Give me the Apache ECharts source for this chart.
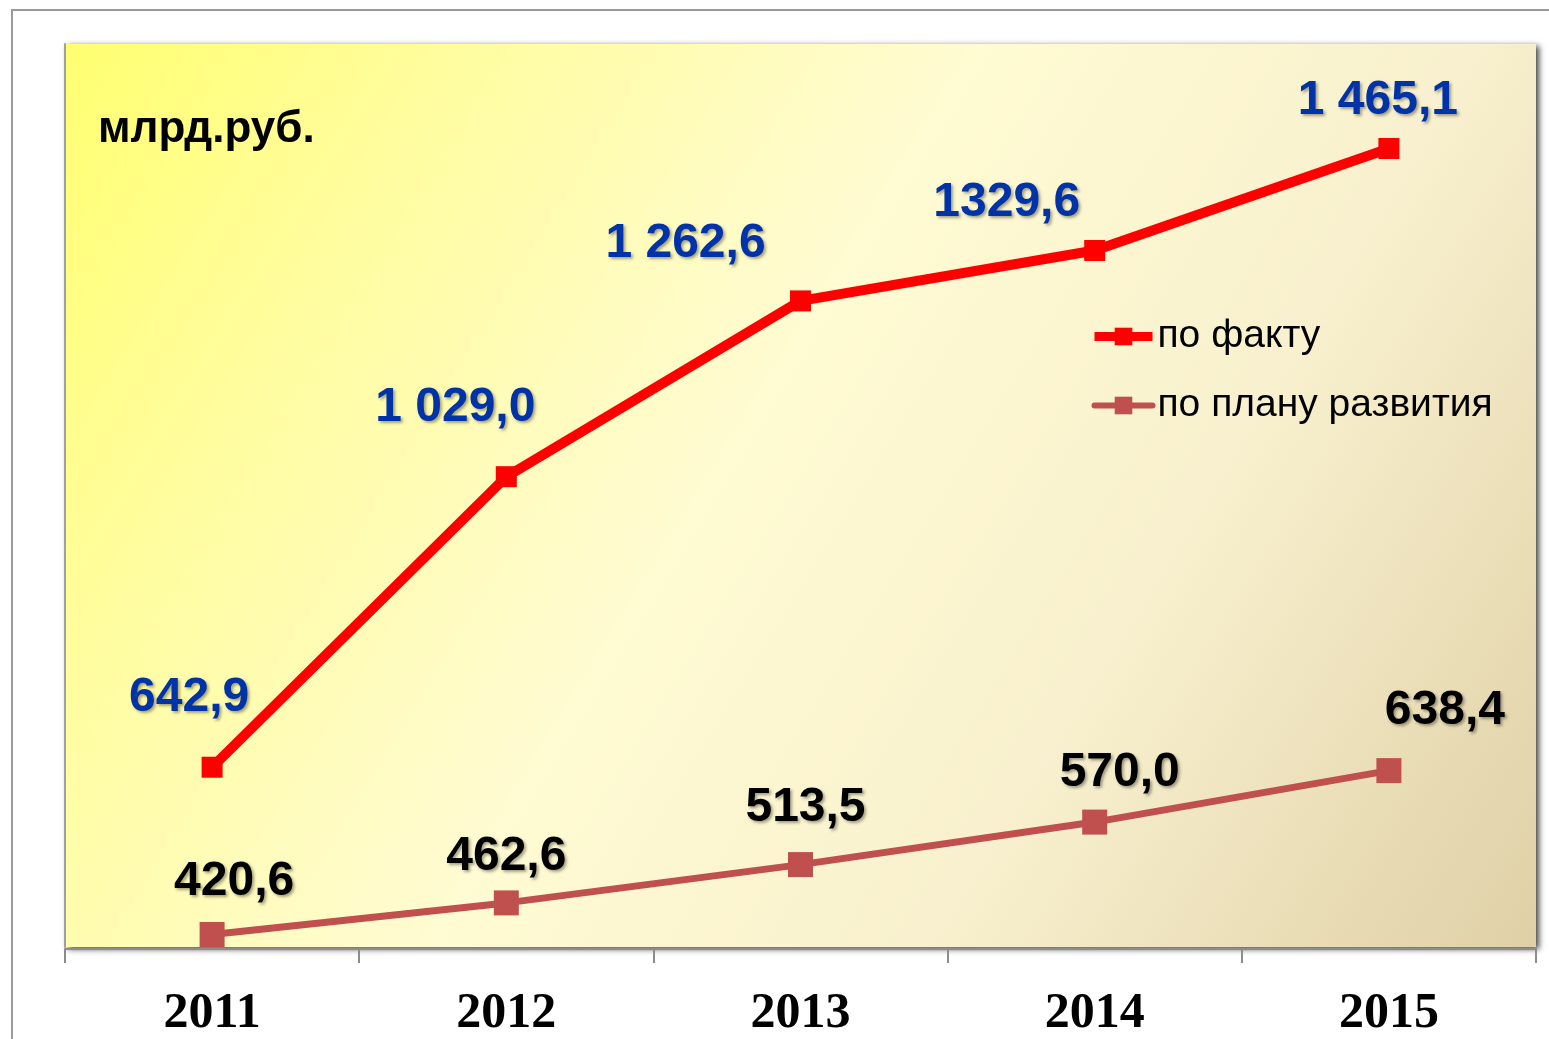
<!DOCTYPE html>
<html>
<head>
<meta charset="utf-8">
<script src="https://cdn.jsdelivr.net/npm/echarts@6/dist/echarts.min.js"></script>
<style>
html,body{margin:0;padding:0;background:#fff;}
#chart{width:1549px;height:1039px;}
</style>
</head>
<body>
<div id="chart"></div>
<script>
var years = ['2011', '2012', '2013', '2014', '2015'];
var factValues = [642.9, 1029.0, 1262.6, 1329.6, 1465.1];
var planValues = [420.6, 462.6, 513.5, 570.0, 638.4];
var factLabels = ['642,9', '1 029,0', '1 262,6', '1329,6', '1 465,1'];
var planLabels = ['420,6', '462,6', '513,5', '570,0', '638,4'];
var seriesNames = ['по факту', 'по плану развития'];
var unitText = 'млрд.руб.';

var factOffsets = [[-23, -69], [-51, -69], [-115, -57], [-88, -48], [-11, -48]];
var planOffsets = [[22, -53], [0, -46], [5, -57], [25, -49], [56, -60]];

function buildData(values, labels, offsets) {
  return values.map(function (v, i) {
    return { value: v, label: { offset: offsets[i], formatter: labels[i] } };
  });
}

var chart = echarts.init(document.getElementById('chart'), null, { renderer: 'canvas' });
var labelCommon = {
  show: true,
  position: 'inside',
  fontFamily: 'Liberation Sans, Arial, sans-serif',
  fontWeight: 'bold',
  fontSize: 48,
  textShadowColor: 'rgba(0,0,0,0.35)',
  textShadowBlur: 3,
  textShadowOffsetX: 2,
  textShadowOffsetY: 2
};

chart.setOption({
  animation: false,
  graphic: [
    { type: 'rect', z: -10, shape: { x: 12, y: 10, width: 1700, height: 1200 },
      style: { fill: 'none', stroke: '#9a9a9a', lineWidth: 2 } },
    { type: 'text', left: 98, top: 108, z: 10,
      style: { text: unitText, font: 'bold 44px "Liberation Sans", Arial, sans-serif', fill: '#000' } }
  ],
  grid: {
    left: 65, right: 13, top: 44, bottom: 82,
    show: true,
    borderWidth: 0,
    backgroundColor: {
      type: 'linear', x: 0, y: 0, x2: 1, y2: 1,
      colorStops: [
        { offset: 0, color: '#FFFF70' },
        { offset: 0.2, color: '#FFFDA0' },
        { offset: 0.45, color: '#FFFBD2' },
        { offset: 0.7, color: '#F8F0CE' },
        { offset: 1, color: '#DFD0A6' }
      ]
    },
    shadowColor: 'rgba(0,0,0,0.75)',
    shadowBlur: 6,
    shadowOffsetX: 3,
    shadowOffsetY: 2
  },
  legend: {
    orient: 'vertical',
    left: 1085,
    top: 312,
    itemGap: 30,
    itemWidth: 58,
    itemHeight: 22,
    textStyle: { fontFamily: 'Liberation Sans, Arial, sans-serif', fontSize: 39, color: '#000' },
    data: [
      { name: seriesNames[0], lineStyle: { width: 9, color: '#FF0000' } },
      { name: seriesNames[1], lineStyle: { width: 6, color: '#C0504D', cap: 'round' } }
    ]
  },
  xAxis: {
    type: 'category',
    data: years,
    boundaryGap: true,
    offset: 2,
    axisLine: { lineStyle: { color: '#8c8c8c', width: 2 } },
    axisTick: { show: true, length: 14, lineStyle: { color: '#8c8c8c', width: 2 } },
    axisLabel: {
      margin: 40,
      fontFamily: 'Liberation Serif, Times New Roman, serif',
      fontWeight: 'bold',
      fontSize: 50,
      color: '#000'
    }
  },
  yAxis: {
    type: 'value',
    min: 404,
    max: 1604,
    axisLine: { show: true, lineStyle: { color: '#a0a0a0', width: 2 } },
    axisTick: { show: false },
    axisLabel: { show: false },
    splitLine: { show: false }
  },
  series: [
    {
      name: seriesNames[0],
      type: 'line',
      data: buildData(factValues, factLabels, factOffsets),
      symbol: 'rect',
      symbolSize: 21,
      lineStyle: { color: '#FF0000', width: 10 },
      itemStyle: { color: '#FF0000' },
      label: Object.assign({}, labelCommon, { color: '#0033A8' }),
      z: 3
    },
    {
      name: seriesNames[1],
      type: 'line',
      data: buildData(planValues, planLabels, planOffsets),
      symbol: 'rect',
      symbolSize: 25,
      lineStyle: { color: '#C0504D', width: 7 },
      itemStyle: { color: '#C0504D' },
      label: Object.assign({}, labelCommon, { color: '#000000' }),
      z: 2
    }
  ]
});
</script>
</body>
</html>
